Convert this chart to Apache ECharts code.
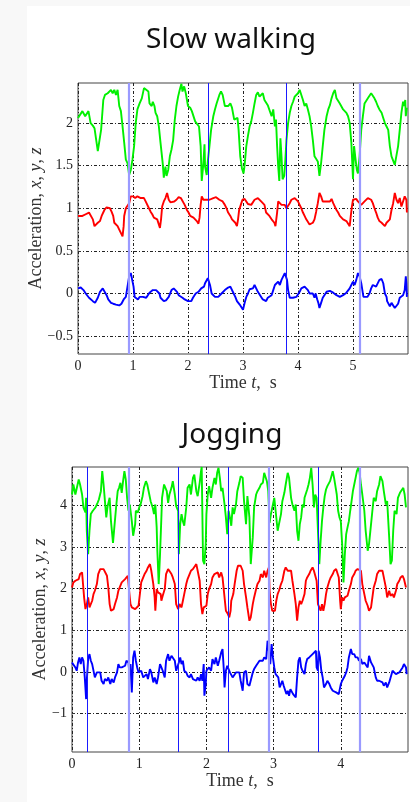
<!DOCTYPE html>
<html>
<head>
<meta charset="utf-8">
<script src="https://cdn.jsdelivr.net/npm/echarts@6/dist/echarts.min.js"></script>
<style>
  html, body { margin: 0; padding: 0; background: #f8f8f8; }
  .paper { position: absolute; left: 27px; top: 6px; right: 0; bottom: 0; background: #fff; }
  #chart { position: absolute; left: 0; top: 0; width: 410px; height: 802px; }
</style>
</head>
<body>
<div class="paper"></div>
<div id="chart"></div>
<script>
// ---- slow walking: [time s, acceleration] ----
const walkGreen = [[0,2.06],[0.08,2.14],[0.13,2.08],[0.19,2.14],[0.23,2.00],[0.27,1.97],[0.30,1.94],[0.36,1.67],[0.39,1.69],[0.42,1.92],[0.46,2.27],[0.49,2.33],[0.54,2.35],[0.57,2.33],[0.60,2.39],[0.63,2.35],[0.66,2.39],[0.69,2.33],[0.72,2.39],[0.75,2.20],[0.78,2.14],[0.81,1.96],[0.84,1.77],[0.87,1.57],[0.90,1.53],[0.93,1.39],[0.96,1.45],[0.99,1.57],[1.02,1.73],[1.05,2.00],[1.08,2.16],[1.12,2.23],[1.16,2.29],[1.20,2.41],[1.24,2.39],[1.28,2.37],[1.30,2.23],[1.34,2.20],[1.36,2.25],[1.39,2.20],[1.41,2.12],[1.44,2.08],[1.47,1.96],[1.50,1.77],[1.54,1.53],[1.56,1.36],[1.59,1.49],[1.61,1.38],[1.64,1.45],[1.67,1.61],[1.70,1.69],[1.73,1.80],[1.76,2.04],[1.79,2.20],[1.82,2.31],[1.85,2.39],[1.88,2.46],[1.90,2.37],[1.93,2.43],[1.96,2.35],[2.00,2.20],[2.04,2.18],[2.07,2.14],[2.10,2.12],[2.13,2.02],[2.16,2.00],[2.20,1.96],[2.23,1.73],[2.25,1.32],[2.28,1.53],[2.30,1.75],[2.31,1.49],[2.34,1.39],[2.36,1.55],[2.39,1.73],[2.42,1.92],[2.46,2.08],[2.49,2.16],[2.52,2.23],[2.57,2.33],[2.60,2.37],[2.63,2.33],[2.67,2.20],[2.70,2.21],[2.73,2.20],[2.77,2.23],[2.80,2.18],[2.84,2.04],[2.87,2.02],[2.90,2.06],[2.92,1.92],[2.95,1.61],[2.98,1.47],[3.01,1.41],[3.03,1.51],[3.06,1.73],[3.09,1.85],[3.12,1.96],[3.15,2.02],[3.18,2.12],[3.21,2.23],[3.24,2.33],[3.27,2.36],[3.30,2.31],[3.33,2.33],[3.36,2.35],[3.39,2.27],[3.42,2.29],[3.45,2.21],[3.48,2.20],[3.52,2.08],[3.55,2.16],[3.58,1.96],[3.60,2.04],[3.62,1.73],[3.64,1.49],[3.66,1.32],[3.68,1.82],[3.70,1.61],[3.72,1.34],[3.75,1.38],[3.77,1.57],[3.79,1.80],[3.82,2.00],[3.85,2.12],[3.88,2.20],[3.91,2.25],[3.94,2.31],[3.97,2.33],[4.00,2.35],[4.03,2.39],[4.06,2.41],[4.09,2.27],[4.12,2.20],[4.15,2.23],[4.18,2.16],[4.21,2.08],[4.24,1.96],[4.27,1.80],[4.30,1.61],[4.33,1.63],[4.36,1.55],[4.39,1.38],[4.42,1.53],[4.45,1.73],[4.48,1.92],[4.52,2.08],[4.55,2.16],[4.58,2.21],[4.61,2.29],[4.64,2.35],[4.67,2.39],[4.70,2.29],[4.73,2.31],[4.76,2.23],[4.79,2.25],[4.82,2.16],[4.85,2.18],[4.88,2.12],[4.91,2.08],[4.94,2.00],[4.97,1.77],[5.00,1.34],[5.02,1.73],[5.04,1.61],[5.07,1.45],[5.09,1.41],[5.12,1.61],[5.15,1.92],[5.18,2.08],[5.21,2.23],[5.24,2.25],[5.27,2.29],[5.30,2.31],[5.33,2.35],[5.36,2.35],[5.39,2.29],[5.42,2.25],[5.45,2.20],[5.48,2.16],[5.52,2.12],[5.55,2.06],[5.58,2.00],[5.61,1.96],[5.64,1.92],[5.67,1.73],[5.70,1.61],[5.73,1.59],[5.76,1.51],[5.79,1.53],[5.82,1.73],[5.85,1.92],[5.88,2.12],[5.91,2.25],[5.93,2.20],[5.95,2.27],[5.96,2.08],[5.98,2.18]];
const walkRed = [[0,0.91],[0.08,0.91],[0.14,0.93],[0.20,0.95],[0.23,0.96],[0.27,0.87],[0.30,0.79],[0.33,0.81],[0.36,0.83],[0.40,0.85],[0.43,0.91],[0.48,0.98],[0.52,1.01],[0.55,1.02],[0.58,1.00],[0.61,0.96],[0.64,0.91],[0.66,0.83],[0.69,0.81],[0.72,0.79],[0.75,0.75],[0.78,0.73],[0.81,0.67],[0.83,0.79],[0.84,0.91],[0.87,1.00],[0.90,1.00],[0.93,1.06],[0.96,1.14],[1.00,1.14],[1.04,1.12],[1.08,1.14],[1.11,1.13],[1.14,1.12],[1.17,1.10],[1.20,1.12],[1.23,1.08],[1.26,1.06],[1.29,1.00],[1.32,0.96],[1.35,0.93],[1.38,0.89],[1.41,0.87],[1.44,0.87],[1.47,0.85],[1.49,0.77],[1.51,0.87],[1.53,1.02],[1.56,1.08],[1.59,1.12],[1.62,1.18],[1.65,1.10],[1.68,1.07],[1.71,1.08],[1.75,1.08],[1.79,1.10],[1.83,1.13],[1.87,1.12],[1.90,1.10],[1.94,1.04],[1.98,0.98],[2.01,0.95],[2.04,0.91],[2.07,0.89],[2.10,0.89],[2.13,0.87],[2.16,0.85],[2.19,0.82],[2.21,0.89],[2.23,1.04],[2.25,1.14],[2.28,1.10],[2.30,1.08],[2.33,1.10],[2.36,1.08],[2.39,1.10],[2.42,1.11],[2.46,1.12],[2.51,1.13],[2.54,1.12],[2.57,1.10],[2.60,1.10],[2.63,1.08],[2.67,1.04],[2.70,1.00],[2.73,0.95],[2.77,0.91],[2.80,0.87],[2.83,0.85],[2.86,0.83],[2.89,0.79],[2.91,0.87],[2.93,0.98],[2.96,1.04],[2.99,1.10],[3.03,1.11],[3.06,1.08],[3.09,1.05],[3.12,1.05],[3.15,1.04],[3.18,1.06],[3.21,1.10],[3.24,1.12],[3.27,1.12],[3.30,1.10],[3.33,1.08],[3.36,1.06],[3.39,1.04],[3.42,0.95],[3.45,0.93],[3.48,0.91],[3.52,0.87],[3.55,0.89],[3.57,0.83],[3.59,0.79],[3.62,0.95],[3.64,1.08],[3.67,1.10],[3.70,1.04],[3.73,1.02],[3.76,1.04],[3.79,1.00],[3.82,1.02],[3.85,1.06],[3.88,1.10],[3.91,1.12],[3.94,1.12],[3.97,1.11],[4.00,1.08],[4.03,1.04],[4.06,1.00],[4.09,0.95],[4.12,0.91],[4.15,0.87],[4.18,0.85],[4.21,0.81],[4.24,0.79],[4.27,0.83],[4.30,0.87],[4.33,0.96],[4.36,1.06],[4.39,1.18],[4.42,1.14],[4.45,1.08],[4.48,1.10],[4.52,1.08],[4.55,1.10],[4.58,1.08],[4.61,1.11],[4.64,1.06],[4.67,1.02],[4.70,0.98],[4.73,0.95],[4.76,0.91],[4.79,0.89],[4.82,0.87],[4.85,0.88],[4.88,0.85],[4.91,0.83],[4.94,0.79],[4.96,0.91],[4.98,1.02],[5.00,1.10],[5.03,1.10],[5.06,1.11],[5.09,1.08],[5.12,1.06],[5.15,1.04],[5.18,1.06],[5.21,1.08],[5.24,1.10],[5.27,1.12],[5.30,1.11],[5.33,1.10],[5.36,1.06],[5.39,1.00],[5.42,0.95],[5.45,0.89],[5.48,0.85],[5.52,0.83],[5.55,0.81],[5.58,0.79],[5.61,0.83],[5.64,0.81],[5.67,0.87],[5.70,0.98],[5.73,1.06],[5.76,1.18],[5.79,1.10],[5.82,1.06],[5.85,1.12],[5.88,1.02],[5.91,1.08],[5.94,1.14],[5.97,1.10],[5.98,0.95]];
const walkBlue = [[0,0.06],[0.05,0.07],[0.10,0.04],[0.14,0.00],[0.20,-0.05],[0.27,-0.09],[0.31,-0.11],[0.36,-0.05],[0.40,0.02],[0.45,0.06],[0.48,0.04],[0.52,-0.02],[0.55,-0.07],[0.60,-0.11],[0.64,-0.12],[0.69,-0.13],[0.75,-0.14],[0.79,-0.12],[0.83,-0.07],[0.87,-0.04],[0.90,0.08],[0.93,0.20],[0.96,0.24],[0.99,0.22],[1.01,0.08],[1.03,-0.04],[1.06,-0.02],[1.09,-0.07],[1.12,-0.04],[1.15,-0.05],[1.18,-0.04],[1.21,-0.03],[1.24,-0.05],[1.27,-0.02],[1.30,0.01],[1.33,0.03],[1.36,0.04],[1.39,0.02],[1.42,0.04],[1.45,0.04],[1.48,0.00],[1.50,-0.05],[1.53,-0.07],[1.56,-0.09],[1.60,-0.08],[1.65,-0.04],[1.70,0.04],[1.74,0.06],[1.77,0.06],[1.80,0.02],[1.83,-0.02],[1.86,-0.04],[1.90,-0.05],[1.94,-0.07],[1.97,-0.08],[2.00,-0.09],[2.03,-0.07],[2.06,-0.09],[2.09,-0.05],[2.12,-0.04],[2.14,0.00],[2.17,-0.02],[2.19,0.02],[2.22,0.00],[2.24,0.06],[2.27,0.04],[2.29,0.08],[2.31,0.12],[2.34,0.10],[2.36,0.18],[2.38,0.20],[2.40,0.10],[2.43,0.00],[2.46,-0.02],[2.49,-0.04],[2.52,-0.05],[2.55,-0.04],[2.58,-0.03],[2.61,0.00],[2.64,0.02],[2.67,0.04],[2.70,0.06],[2.73,0.07],[2.77,0.08],[2.80,0.06],[2.83,0.00],[2.86,-0.04],[2.89,-0.09],[2.92,-0.07],[2.94,-0.13],[2.97,-0.15],[3.00,-0.19],[3.03,-0.11],[3.06,-0.04],[3.09,0.00],[3.12,0.05],[3.15,0.04],[3.18,0.06],[3.21,0.10],[3.24,0.06],[3.27,0.02],[3.30,0.00],[3.33,-0.04],[3.36,-0.07],[3.39,-0.08],[3.42,-0.09],[3.45,-0.05],[3.48,-0.04],[3.52,-0.02],[3.55,0.04],[3.58,0.10],[3.61,0.08],[3.64,0.14],[3.67,0.10],[3.70,0.16],[3.73,0.18],[3.76,0.24],[3.78,0.26],[3.80,0.16],[3.82,0.04],[3.85,-0.05],[3.88,-0.06],[3.91,-0.05],[3.94,-0.06],[3.97,-0.04],[4.00,-0.02],[4.03,0.02],[4.06,0.06],[4.09,0.07],[4.12,0.08],[4.15,0.06],[4.18,0.04],[4.21,0.00],[4.24,0.02],[4.27,0.00],[4.30,-0.05],[4.32,0.00],[4.35,-0.07],[4.37,-0.11],[4.39,-0.17],[4.42,-0.11],[4.45,-0.05],[4.48,-0.02],[4.52,0.02],[4.55,0.04],[4.58,0.03],[4.61,0.02],[4.64,0.01],[4.67,0.00],[4.70,-0.02],[4.73,-0.04],[4.76,-0.04],[4.79,-0.04],[4.82,-0.02],[4.85,0.00],[4.88,0.01],[4.91,0.02],[4.94,0.06],[4.97,0.10],[5.00,0.14],[5.03,0.10],[5.06,0.16],[5.09,0.24],[5.12,0.20],[5.15,0.12],[5.17,0.04],[5.19,-0.04],[5.22,-0.05],[5.26,-0.04],[5.30,0.00],[5.33,0.06],[5.36,0.10],[5.39,0.12],[5.42,0.08],[5.45,0.10],[5.48,0.16],[5.52,0.17],[5.55,0.12],[5.58,0.00],[5.61,-0.04],[5.62,-0.09],[5.65,-0.07],[5.67,-0.15],[5.70,-0.11],[5.73,-0.13],[5.76,-0.17],[5.79,-0.19],[5.82,-0.12],[5.85,-0.05],[5.88,-0.04],[5.91,-0.02],[5.94,0.04],[5.96,0.20],[5.97,0.12],[5.98,-0.04]];
const walkStepLines = [2.37, 3.79];
const walkStepLinesLight = [0.92, 5.12];
const walkYTicks = [-0.5, 0, 0.5, 1, 1.5, 2];
const walkXTicks = [0, 1, 2, 3, 4, 5];

// ---- jogging ----
const jogGreen = [[0,4.26],[0.02,4.50],[0.05,4.26],[0.07,4.22],[0.10,4.62],[0.12,4.50],[0.15,4.26],[0.17,3.95],[0.20,3.83],[0.21,4.18],[0.22,3.39],[0.24,2.83],[0.26,3.39],[0.28,3.79],[0.31,3.87],[0.33,3.83],[0.35,3.95],[0.38,4.06],[0.40,4.14],[0.43,4.34],[0.45,4.82],[0.47,4.50],[0.49,4.10],[0.51,3.71],[0.53,3.98],[0.56,4.18],[0.58,3.62],[0.61,3.10],[0.63,3.47],[0.66,4.02],[0.68,4.34],[0.70,4.42],[0.72,4.54],[0.74,4.30],[0.76,4.58],[0.78,4.82],[0.80,4.62],[0.82,4.18],[0.84,3.87],[0.86,4.02],[0.89,3.62],[0.91,3.27],[0.94,3.55],[0.95,3.87],[0.98,3.83],[1.00,3.95],[1.02,4.02],[1.05,4.22],[1.07,4.42],[1.10,4.58],[1.12,4.50],[1.15,4.26],[1.17,4.10],[1.20,3.95],[1.22,3.79],[1.24,4.02],[1.26,3.47],[1.27,2.91],[1.29,2.11],[1.31,2.83],[1.33,3.71],[1.34,4.18],[1.37,4.50],[1.39,4.54],[1.41,4.34],[1.43,4.06],[1.45,4.26],[1.48,4.42],[1.50,4.58],[1.53,4.26],[1.55,3.98],[1.58,3.87],[1.59,2.83],[1.61,3.55],[1.63,3.79],[1.65,3.62],[1.67,3.51],[1.70,3.95],[1.72,4.42],[1.75,4.50],[1.77,4.26],[1.80,4.66],[1.82,4.74],[1.85,4.34],[1.87,4.22],[1.90,4.54],[1.92,4.82],[1.93,4.92],[1.95,2.67],[1.97,2.59],[1.99,3.07],[2.00,3.79],[2.02,4.26],[2.04,4.46],[2.07,4.18],[2.09,4.42],[2.12,4.66],[2.14,4.50],[2.16,4.78],[2.18,4.90],[2.20,4.66],[2.22,4.34],[2.24,4.42],[2.27,4.02],[2.29,3.71],[2.31,3.31],[2.33,3.87],[2.35,3.71],[2.37,3.51],[2.39,3.95],[2.41,3.79],[2.44,4.02],[2.46,4.34],[2.49,4.54],[2.51,4.70],[2.54,4.66],[2.56,4.10],[2.59,3.55],[2.61,4.22],[2.64,3.71],[2.66,2.59],[2.69,3.23],[2.71,3.95],[2.74,4.26],[2.76,4.34],[2.79,4.42],[2.81,4.50],[2.84,4.54],[2.86,4.78],[2.88,4.82],[2.90,4.58],[2.92,4.34],[2.94,3.58],[2.96,3.79],[2.98,3.83],[3.01,4.18],[3.03,3.87],[3.06,3.39],[3.08,3.43],[3.11,3.79],[3.13,4.10],[3.16,4.30],[3.18,4.50],[3.21,4.78],[3.23,4.66],[3.26,4.18],[3.28,4.02],[3.31,3.87],[3.33,4.02],[3.35,3.39],[3.37,3.15],[3.39,3.55],[3.41,3.71],[3.43,4.02],[3.45,3.95],[3.46,4.18],[3.48,4.18],[3.50,4.38],[3.52,4.50],[3.54,4.66],[3.56,4.90],[3.58,4.50],[3.60,3.95],[3.62,4.26],[3.64,4.18],[3.66,3.39],[3.68,2.59],[3.70,3.15],[3.72,3.62],[3.74,3.95],[3.76,4.22],[3.78,4.38],[3.80,4.46],[3.82,4.50],[3.84,4.58],[3.86,4.70],[3.88,4.82],[3.90,4.66],[3.92,4.46],[3.94,4.26],[3.96,3.87],[3.98,3.71],[4.00,3.62],[4.02,3.07],[4.04,2.15],[4.06,2.83],[4.08,3.31],[4.10,3.47],[4.12,3.62],[4.14,3.87],[4.16,4.10],[4.18,4.34],[4.20,4.50],[4.22,4.66],[4.24,4.82],[4.26,4.90],[4.28,4.78],[4.30,4.50],[4.32,4.26],[4.35,3.87],[4.37,3.39],[4.40,2.91],[4.42,3.07],[4.45,3.55],[4.47,3.87],[4.49,4.18],[4.52,4.10],[4.54,4.34],[4.57,4.50],[4.59,4.70],[4.62,4.58],[4.64,4.34],[4.67,4.02],[4.69,4.10],[4.72,3.23],[4.74,2.59],[4.76,2.67],[4.78,3.39],[4.80,3.87],[4.83,3.79],[4.85,4.18],[4.88,4.30],[4.90,4.34],[4.93,4.42],[4.95,4.26],[4.97,3.95]];
const jogRed = [[0,2.03],[0.02,2.15],[0.05,2.19],[0.07,2.23],[0.10,2.23],[0.12,2.35],[0.15,2.39],[0.16,2.19],[0.18,1.79],[0.20,1.51],[0.22,1.63],[0.24,1.79],[0.26,1.55],[0.28,1.51],[0.30,1.71],[0.32,1.87],[0.34,1.95],[0.37,2.11],[0.39,2.35],[0.42,2.47],[0.44,2.51],[0.47,2.47],[0.49,2.51],[0.52,2.31],[0.54,2.03],[0.56,1.63],[0.58,1.47],[0.60,1.51],[0.62,1.51],[0.64,1.63],[0.67,1.79],[0.69,1.95],[0.71,2.03],[0.74,2.15],[0.76,2.19],[0.79,2.23],[0.81,2.27],[0.83,2.31],[0.85,1.95],[0.87,1.63],[0.89,1.55],[0.91,1.59],[0.94,1.51],[0.96,1.47],[0.99,1.59],[1.01,1.87],[1.03,2.15],[1.06,2.27],[1.08,2.35],[1.11,2.43],[1.13,2.51],[1.16,2.59],[1.18,2.43],[1.21,2.11],[1.23,1.79],[1.24,1.47],[1.26,1.99],[1.28,1.91],[1.30,1.95],[1.32,1.87],[1.33,1.71],[1.35,1.83],[1.38,1.99],[1.40,2.35],[1.43,2.47],[1.45,2.43],[1.48,2.35],[1.50,2.27],[1.53,2.11],[1.55,1.63],[1.58,1.51],[1.60,1.63],[1.63,1.55],[1.65,1.71],[1.67,1.87],[1.70,2.11],[1.72,2.23],[1.75,2.35],[1.77,2.43],[1.80,2.47],[1.82,2.51],[1.85,2.59],[1.87,2.55],[1.90,2.19],[1.92,1.63],[1.94,1.39],[1.96,1.55],[1.98,1.51],[2.00,1.59],[2.02,1.87],[2.04,1.99],[2.07,2.11],[2.09,2.27],[2.12,2.35],[2.14,2.35],[2.17,2.39],[2.19,2.27],[2.22,2.39],[2.24,2.27],[2.27,1.79],[2.29,1.47],[2.32,1.39],[2.34,1.31],[2.36,1.47],[2.37,1.71],[2.40,1.87],[2.42,2.11],[2.45,2.43],[2.47,2.55],[2.49,2.59],[2.51,2.55],[2.54,2.43],[2.56,2.11],[2.59,1.79],[2.61,1.55],[2.64,1.23],[2.66,1.31],[2.69,1.63],[2.71,1.79],[2.74,1.99],[2.76,2.11],[2.79,2.19],[2.81,2.35],[2.84,2.27],[2.86,2.43],[2.89,2.27],[2.91,2.43],[2.93,2.51],[2.94,1.95],[2.96,1.63],[2.98,1.47],[3.00,1.51],[3.02,1.47],[3.04,1.71],[3.06,1.87],[3.08,1.95],[3.11,2.11],[3.13,2.19],[3.16,2.43],[3.18,2.51],[3.21,2.43],[3.23,2.47],[3.26,2.43],[3.28,2.19],[3.31,1.87],[3.33,1.63],[3.35,1.23],[3.37,1.55],[3.39,1.71],[3.41,1.63],[3.43,1.71],[3.46,1.87],[3.48,2.19],[3.50,2.27],[3.53,2.35],[3.55,2.43],[3.58,2.51],[3.60,2.43],[3.62,2.31],[3.64,2.19],[3.66,1.63],[3.68,1.55],[3.70,1.47],[3.72,1.63],[3.74,1.47],[3.76,1.63],[3.78,1.87],[3.80,2.03],[3.83,2.19],[3.85,2.27],[3.88,2.35],[3.90,2.43],[3.93,2.47],[3.95,2.47],[3.97,2.27],[3.99,1.71],[4.00,1.51],[4.02,1.79],[4.04,1.71],[4.06,1.79],[4.08,1.75],[4.10,1.83],[4.12,1.95],[4.15,2.11],[4.17,2.27],[4.20,2.35],[4.22,2.43],[4.25,2.47],[4.27,2.49],[4.30,2.43],[4.32,2.11],[4.35,1.87],[4.37,1.71],[4.40,1.59],[4.42,1.47],[4.45,1.55],[4.47,1.79],[4.49,2.03],[4.52,2.19],[4.54,2.35],[4.57,2.43],[4.59,2.47],[4.62,2.43],[4.64,2.27],[4.67,2.03],[4.69,1.79],[4.72,1.95],[4.74,1.83],[4.77,1.87],[4.79,1.79],[4.82,1.95],[4.84,2.11],[4.87,2.19],[4.89,2.27],[4.92,2.31],[4.94,2.23],[4.97,2.03]];
const jogBlue = [[0,0.23],[0.02,0.27],[0.05,0.11],[0.07,0.03],[0.09,0.23],[0.11,0.35],[0.13,0.19],[0.15,0.35],[0.17,0.27],[0.19,-0.13],[0.21,-0.65],[0.22,-0.21],[0.24,0.31],[0.26,0.43],[0.28,0.27],[0.30,0.19],[0.32,0.15],[0.34,-0.13],[0.37,-0.01],[0.39,-0.05],[0.42,-0.01],[0.44,-0.21],[0.47,-0.29],[0.49,-0.17],[0.52,-0.21],[0.54,-0.13],[0.57,-0.29],[0.59,-0.17],[0.62,-0.25],[0.64,-0.13],[0.67,-0.01],[0.69,0.19],[0.71,0.11],[0.74,0.11],[0.76,0.07],[0.79,0.15],[0.81,0.27],[0.84,0.23],[0.85,0.03],[0.87,0.19],[0.89,-0.49],[0.91,0.35],[0.93,0.51],[0.95,0.27],[0.97,0.11],[0.99,-0.01],[1.01,-0.05],[1.03,0.03],[1.06,-0.13],[1.08,-0.09],[1.11,-0.05],[1.13,-0.17],[1.16,0.07],[1.18,-0.01],[1.21,-0.25],[1.23,-0.13],[1.26,-0.29],[1.28,-0.13],[1.31,0.19],[1.33,0.11],[1.35,0.03],[1.38,-0.13],[1.40,0.27],[1.43,0.43],[1.45,0.27],[1.48,0.39],[1.50,0.35],[1.53,0.27],[1.55,0.03],[1.57,0.03],[1.59,0.23],[1.61,0.35],[1.63,0.19],[1.65,0.27],[1.67,0.03],[1.70,-0.01],[1.72,-0.09],[1.75,-0.13],[1.77,-0.05],[1.80,-0.17],[1.82,-0.13],[1.85,-0.21],[1.87,-0.13],[1.90,-0.21],[1.92,-0.05],[1.94,-0.21],[1.96,0.19],[1.97,-0.57],[1.99,-0.29],[2.00,0.03],[2.02,-0.01],[2.04,0.11],[2.07,0.03],[2.09,0.31],[2.12,0.19],[2.14,0.35],[2.17,0.15],[2.19,0.27],[2.22,0.47],[2.24,0.55],[2.26,0.03],[2.27,-0.37],[2.29,0.03],[2.31,0.15],[2.33,0.11],[2.35,-0.01],[2.37,0.03],[2.39,-0.13],[2.41,-0.17],[2.44,-0.01],[2.46,0.03],[2.49,-0.01],[2.51,-0.21],[2.54,-0.45],[2.56,-0.01],[2.59,0.03],[2.61,-0.29],[2.64,-0.33],[2.66,-0.29],[2.69,-0.01],[2.71,0.07],[2.74,0.15],[2.76,0.19],[2.79,0.27],[2.81,0.31],[2.84,0.27],[2.86,0.35],[2.89,0.31],[2.91,0.75],[2.93,0.51],[2.95,0.19],[2.97,0.67],[2.99,0.35],[3.01,0.11],[3.03,-0.05],[3.05,-0.05],[3.07,-0.13],[3.09,-0.37],[3.11,-0.29],[3.13,-0.21],[3.15,-0.33],[3.17,-0.37],[3.19,-0.53],[3.21,-0.45],[3.23,-0.57],[3.25,-0.41],[3.27,-0.45],[3.29,-0.53],[3.31,-0.57],[3.33,-0.61],[3.35,-0.13],[3.37,0.27],[3.39,0.35],[3.41,0.11],[3.43,0.03],[3.46,-0.05],[3.48,0.19],[3.50,0.31],[3.53,0.35],[3.55,0.39],[3.58,0.43],[3.60,0.47],[3.63,0.51],[3.64,0.11],[3.66,0.03],[3.67,0.51],[3.69,0.35],[3.71,0.03],[3.73,-0.13],[3.75,-0.37],[3.78,-0.29],[3.80,-0.21],[3.83,-0.29],[3.85,-0.37],[3.88,-0.45],[3.90,-0.49],[3.93,-0.49],[3.95,-0.53],[3.97,-0.53],[4.00,-0.29],[4.02,-0.21],[4.04,-0.25],[4.06,-0.09],[4.08,-0.01],[4.10,0.11],[4.12,0.35],[4.15,0.55],[4.17,0.43],[4.20,0.43],[4.22,0.35],[4.25,0.35],[4.27,0.27],[4.30,0.31],[4.32,0.19],[4.35,0.23],[4.37,0.19],[4.40,0.11],[4.42,0.39],[4.45,0.23],[4.47,0.19],[4.49,0.11],[4.52,-0.13],[4.54,-0.21],[4.57,-0.21],[4.59,-0.17],[4.62,-0.25],[4.64,-0.33],[4.67,-0.25],[4.69,-0.37],[4.72,-0.25],[4.74,-0.29],[4.77,0.03],[4.79,0.07],[4.82,-0.05],[4.84,-0.05],[4.87,-0.01],[4.89,-0.01],[4.92,0.11],[4.94,0.19],[4.97,0.11],[4.98,-0.05]];
const jogStepLines = [0.22, 1.58, 2.32, 3.67];
const jogStepLinesLight = [0.84, 2.93, 4.28];
const jogYTicks = [-1, 0, 1, 2, 3, 4];
const jogXTicks = [0, 1, 2, 3, 4];

const SERIF = '"Liberation Serif", "DejaVu Serif", serif';
const gridDash = { color: '#222', width: 1, type: [3, 2, 1, 2] };
const nameRich = {
  n: { fontFamily: SERIF, fontSize: 18, color: '#333' },
  i: { fontFamily: SERIF, fontSize: 18, fontStyle: 'italic', color: '#333' }
};

function fmtTick(v) {
  return v < 0 ? '\u2212' + Math.abs(v) : String(v);
}

function xAxisFor(gridIndex, max, ticks, nameGap) {
  return {
    type: 'value', gridIndex: gridIndex, min: 0, max: max,
    name: '{n|Time }{i|t}{n|,  s}', nameLocation: 'middle', nameGap: nameGap,
    nameTextStyle: { rich: nameRich },
    axisLine: { show: false },
    axisTick: { show: true, inside: true, length: 3, customValues: ticks, lineStyle: { color: '#333' } },
    axisLabel: { customValues: ticks, margin: 5, fontFamily: SERIF, fontSize: 14, color: '#222', formatter: fmtTick },
    splitLine: { show: true, lineStyle: gridDash }
  };
}

function yAxisFor(gridIndex, min, max, ticks, nameGap) {
  return {
    type: 'value', gridIndex: gridIndex, min: min, max: max,
    name: '{n|Acceleration, }{i|x}{n|, }{i|y}{n|, }{i|z}', nameLocation: 'middle', nameGap: nameGap,
    nameMoveOverlap: false,
    nameTextStyle: { rich: nameRich },
    axisLine: { show: false },
    axisTick: { show: true, inside: true, length: 3, customValues: ticks, lineStyle: { color: '#333' } },
    axisLabel: { customValues: ticks, margin: 5, fontFamily: SERIF, fontSize: 14, color: '#222', formatter: fmtTick },
    splitLine: { show: true, lineStyle: gridDash }
  };
}

function stepMarks(strong, light) {
  const data = [];
  strong.forEach(function (t) {
    data.push({ xAxis: t, lineStyle: { color: '#1a1aff', width: 1, type: 'solid' } });
  });
  light.forEach(function (t) {
    data.push({ xAxis: t, lineStyle: { color: '#9a9aff', width: 2.2, type: 'solid' } });
  });
  return {
    silent: true, symbol: ['none', 'none'], label: { show: false },
    animation: false, data: data
  };
}

function lineSeries(idx, data, color, marks) {
  const s = {
    type: 'line', xAxisIndex: idx, yAxisIndex: idx, data: data,
    showSymbol: false, symbol: 'none', smooth: false,
    lineStyle: { color: color, width: 1.9 }, itemStyle: { color: color },
    animation: false
  };
  if (marks) s.markLine = marks;
  return s;
}

const chart = echarts.init(document.getElementById('chart'), null, { renderer: 'canvas' });
chart.setOption({
  backgroundColor: 'transparent',
  graphic: [
    { type: 'text', x: 231, y: 40, style: { text: 'Slow walking', fontFamily: '"Noto Sans", sans-serif', fontSize: 28, fill: '#111', align: 'center', verticalAlign: 'middle', textAlign: 'center', textVerticalAlign: 'middle' } },
    { type: 'text', x: 232, y: 435, style: { text: 'Jogging', fontFamily: '"Noto Sans", sans-serif', fontSize: 28, fill: '#111', align: 'center', verticalAlign: 'middle', textAlign: 'center', textVerticalAlign: 'middle' } }
  ],
  grid: [
    { left: 78, top: 83, width: 330, height: 271, show: true, borderColor: '#444', borderWidth: 1, backgroundColor: 'transparent' },
    { left: 72, top: 467, width: 336, height: 285, show: true, borderColor: '#444', borderWidth: 1, backgroundColor: 'transparent' }
  ],
  xAxis: [
    xAxisFor(0, 6, walkXTicks, 17),
    xAxisFor(1, 5, jogXTicks, 18)
  ],
  yAxis: [
    yAxisFor(0, -0.71, 2.47, walkYTicks, 33),
    yAxisFor(1, -1.92, 4.92, jogYTicks, 23)
  ],
  series: [
    lineSeries(0, walkGreen, '#00f000'),
    lineSeries(0, walkRed, '#ff0000'),
    lineSeries(0, walkBlue, '#0000ff', stepMarks(walkStepLines, walkStepLinesLight)),
    lineSeries(1, jogGreen, '#00f000'),
    lineSeries(1, jogRed, '#ff0000'),
    lineSeries(1, jogBlue, '#0000ff', stepMarks(jogStepLines, jogStepLinesLight))
  ]
});
</script>
</body>
</html>
